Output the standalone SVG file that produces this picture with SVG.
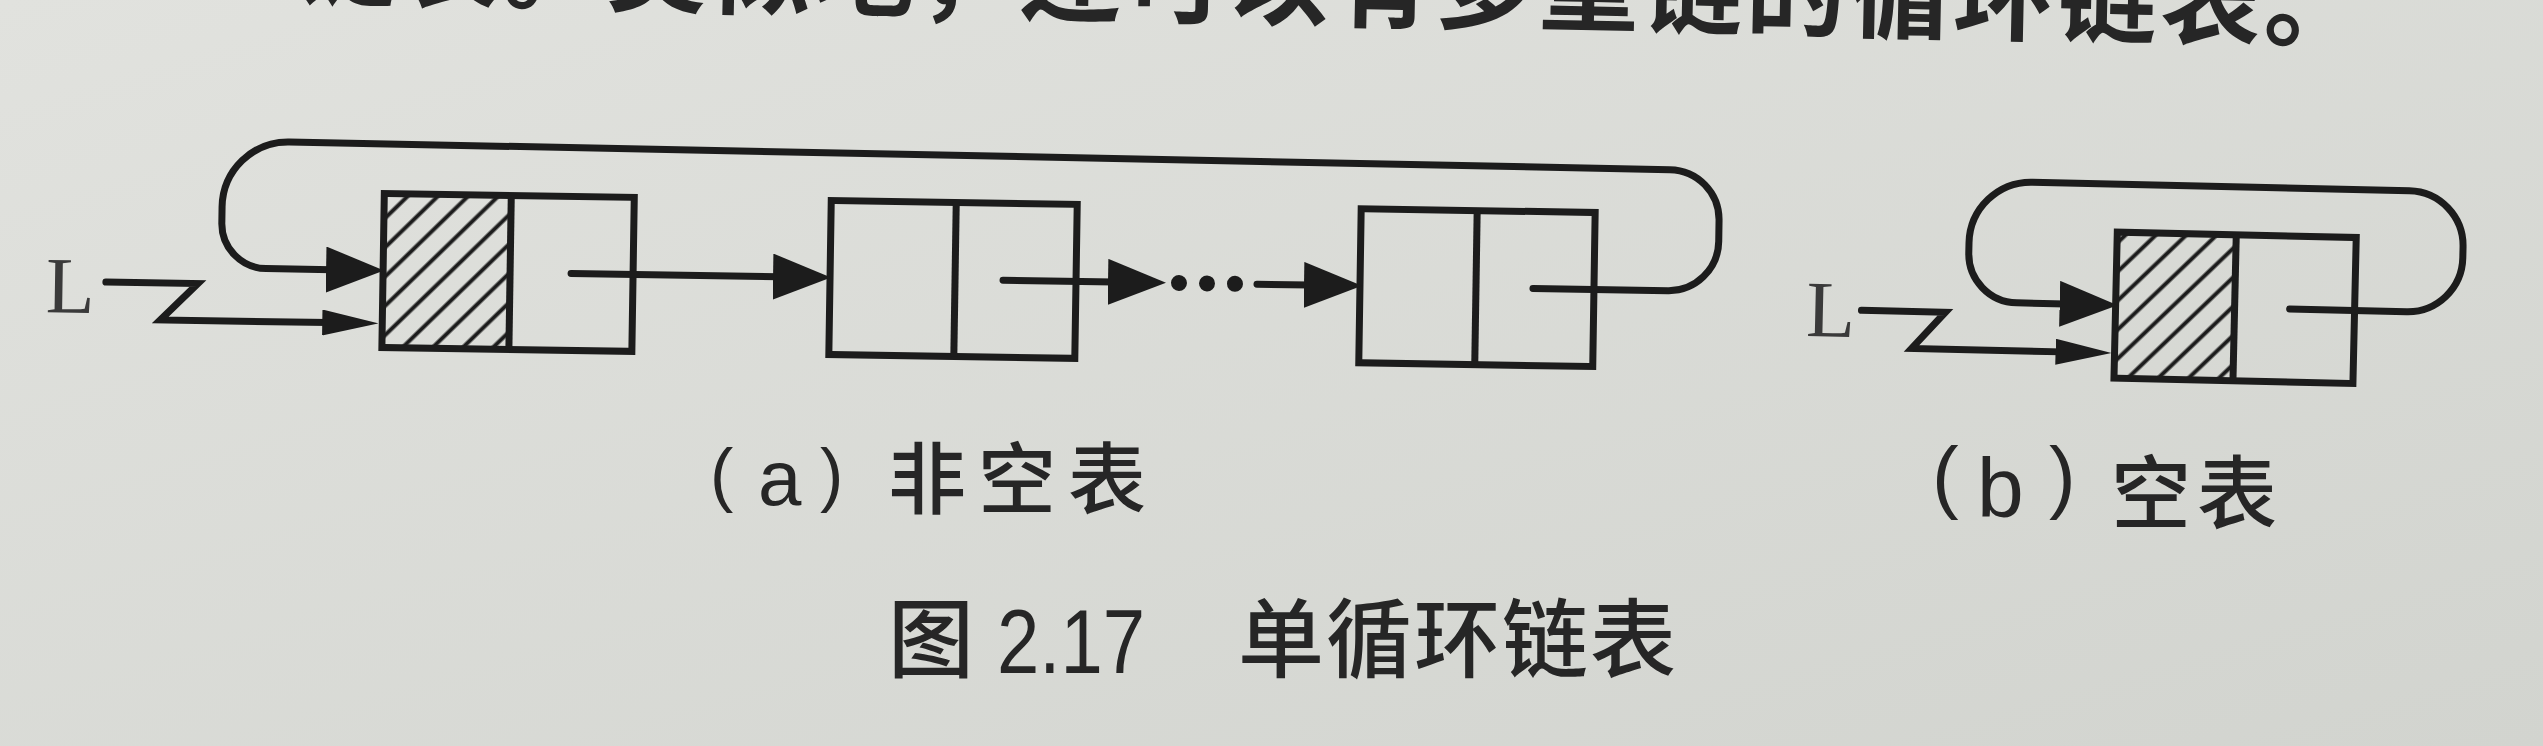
<svg xmlns="http://www.w3.org/2000/svg" width="2543" height="746" viewBox="0 0 2543 746">
<defs>
<linearGradient id="paper" x1="0" y1="0" x2="1" y2="1">
<stop offset="0" stop-color="#e1e2de"/>
<stop offset="1" stop-color="#d2d4cf"/>
</linearGradient>
<pattern id="hatch" patternUnits="userSpaceOnUse" width="21" height="21" patternTransform="rotate(45)">
<line x1="10.5" y1="0" x2="10.5" y2="21" stroke="#1c1c1c" stroke-width="4"/>
</pattern>
<marker id="arrow-big" markerUnits="userSpaceOnUse" markerWidth="58" markerHeight="46" viewBox="0 0 58 46" refX="6" refY="23" orient="auto">
<path d="M0,0 L58,23 L0,46 z" fill="#1c1c1c"/>
</marker>
<marker id="arrow-slim" markerUnits="userSpaceOnUse" markerWidth="56" markerHeight="26" viewBox="0 0 56 26" refX="6" refY="13" orient="auto">
<path d="M0,0 L56,13 L0,26 z" fill="#1c1c1c"/>
</marker>
<style>
.box{fill:none;stroke:#1c1c1c;stroke-width:7}
.hatch{fill:url(#hatch);stroke:none}
.wire{fill:none;stroke:#1c1c1c;stroke-width:7;stroke-linecap:round;stroke-linejoin:miter}
.big{marker-end:url(#arrow-big)}
.slim{marker-end:url(#arrow-slim)}
.dot{fill:#1c1c1c}
.cjk{font-family:"Noto Sans CJK SC","Noto Sans",sans-serif;fill:#262626}
.lat{font-family:"Liberation Sans",Arial,sans-serif;fill:#262626}
.ser{font-family:"Liberation Serif","Times New Roman",serif;fill:#3a3a3a}
</style>
</defs>
<rect x="0" y="0" width="2543" height="746" fill="url(#paper)"/>

<text class="cjk" x="295" y="24" font-size="100" font-weight="bold" letter-spacing="3.6" transform="rotate(1.2 1586 24)">链表。类似地，还可以有多重链的循环链表。</text>

<g id="figure-a" transform="rotate(0.9 800 280)">
<g id="node-a1">
<rect class="hatch" x="383" y="200" width="127" height="154"/>
<rect class="box" x="383" y="200" width="250" height="154"/>
<line class="box" x1="510" y1="200" x2="510" y2="354"/>
</g>
<g id="node-a2">
<rect class="box" x="830" y="200" width="246" height="154"/>
<line class="box" x1="955" y1="200" x2="955" y2="354"/>
</g>
<g id="node-a3">
<rect class="box" x="1360" y="200" width="234" height="154"/>
<line class="box" x1="1476" y1="200" x2="1476" y2="354"/>
</g>
<text id="label-L-a" class="ser" x="46" y="324" font-size="80">L</text>
</g>

<g id="figure-b" transform="rotate(1.3 2200 290)">
<g id="node-b1">
<rect class="hatch" x="2116" y="234" width="119" height="146"/>
<rect class="box" x="2116" y="234" width="239" height="146"/>
<line class="box" x1="2235" y1="234" x2="2235" y2="380"/>
</g>
<text id="label-L-b" class="ser" x="1807" y="345" font-size="80">L</text>
</g>

<g id="connectors">
<g transform="rotate(0.9 800 280)">
<path class="wire slim" d="M106 293 H198 L161 330 H329"/>
<path class="wire big" d="M571 277 H779"/>
<path class="wire big" d="M1003 277 H1114"/>
<circle class="dot" cx="1179" cy="277" r="8"/>
<circle class="dot" cx="1207" cy="277" r="8"/>
<circle class="dot" cx="1235" cy="277" r="8"/>
<path class="wire big" d="M1257 277 H1310"/>
<path class="wire big" d="M1533 277 H1668 A50 50 0 0 0 1718 227 V206 A50 50 0 0 0 1668 156 L287 150 A66 66 0 0 0 221 216 V232 A45 45 0 0 0 266 277 H332"/>
</g>
<g transform="rotate(1.3 2200 290)">
<path class="wire slim" d="M1862 318 H1946 L1913 355 H2063"/>
<path class="wire big" d="M2290 307 H2407 A55 55 0 0 0 2462 252 V241 A55 55 0 0 0 2407 186 H2030 A62 62 0 0 0 1968 248 V258 A49 49 0 0 0 2017 307 H2066"/>
</g>
</g>

<g id="caption-a">
<text class="lat" x="710" y="498" font-size="70">(</text>
<text class="lat" x="758" y="505" font-size="78">a</text>
<text class="lat" x="820" y="498" font-size="70">)</text>
<text class="cjk" x="888" y="508" font-size="78" font-weight="500" letter-spacing="12">非空表</text>
</g>
<g id="caption-b">
<text class="lat" x="1932" y="503" font-size="80">(</text>
<text class="lat" x="1977" y="517" font-size="84">b</text>
<text class="lat" x="2049" y="503" font-size="80">)</text>
<text class="cjk" x="2111" y="522" font-size="80" font-weight="500" letter-spacing="6">空表</text>
</g>
<g id="figure-caption">
<text class="cjk" x="888" y="671" font-size="86" font-weight="500">图</text>
<text class="lat" x="997" y="673" font-size="90" textLength="148" lengthAdjust="spacingAndGlyphs">2.17</text>
<text class="cjk" x="1238" y="671" font-size="86" font-weight="500" letter-spacing="2">单循环链表</text>
</g>
</svg>
